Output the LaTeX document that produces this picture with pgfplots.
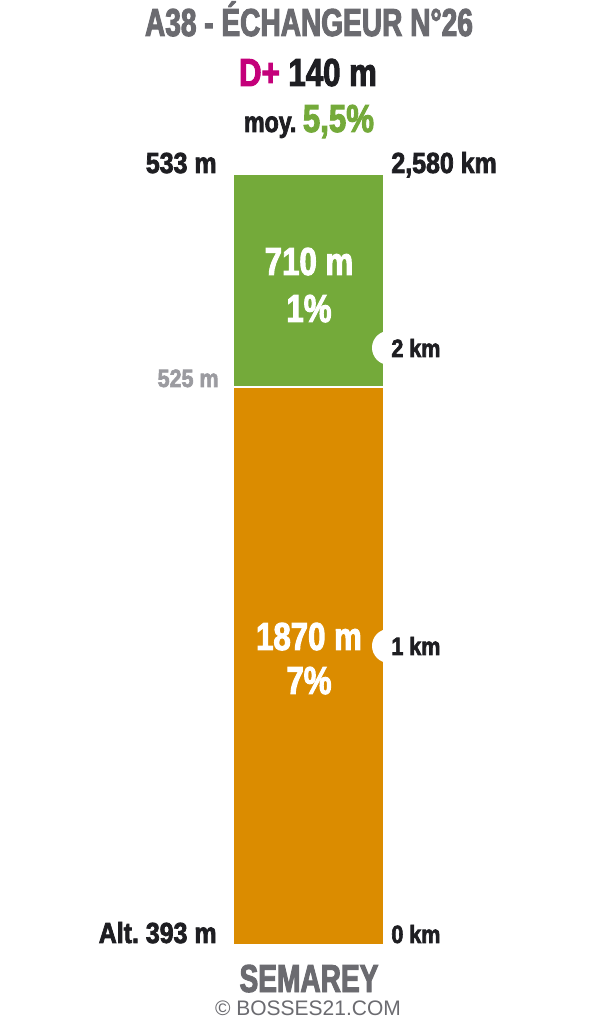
\documentclass[border=0pt]{standalone}
\usepackage{pgfplots}
\pgfplotsset{compat=1.18}
\usepackage{fontspec}
\setmainfont{Liberation Sans}
\newfontfamily\cfa[FakeStretch=0.72,BoldFeatures={FakeBold=2.5}]{Liberation Sans}
\newfontfamily\cfb[FakeStretch=0.80,BoldFeatures={FakeBold=2.5}]{Liberation Sans}
\newfontfamily\cfc[FakeStretch=0.86,BoldFeatures={FakeBold=2.5}]{Liberation Sans}
\definecolor{cgreen}{HTML}{74AA3A}
\definecolor{corange}{HTML}{DB8C00}
\definecolor{ctitle}{HTML}{6B6B70}
\definecolor{cdark}{HTML}{1E1E22}
\definecolor{cmag}{HTML}{C4007A}
\definecolor{clight}{HTML}{9B9BA0}
\newcommand\FS[1]{\fontsize{#1}{#1}\selectfont}
\newcommand\PX[2]{({(#1)*0.5pt},{(1024-(#2))*0.5pt})}
\frenchspacing
\begin{document}
\begin{tikzpicture}
\useasboundingbox (0,0) rectangle (300pt,512pt);
\fill[white] (0,0) rectangle (300pt,512pt);
\begin{axis}[
  at={(117pt,40pt)}, anchor=south west,
  scale only axis, width=74.5pt, height=384.5pt,
  xmin=-0.5, xmax=0.5, ymin=0, ymax=2580,
  ybar stacked, bar width=74.5pt,
  hide axis, clip=false, enlargelimits=false,
]
\addplot[fill=corange, draw=none] coordinates {(0,1870)};
\addplot[fill=cgreen, draw=none] coordinates {(0,710)};
\coordinate (sl) at (axis cs:-0.5,1870);
\coordinate (sr) at (axis cs:0.5,1870);
\coordinate (n1) at (axis cs:0.5,1000);
\coordinate (n2) at (axis cs:0.5,2000);
\end{axis}
\draw[white, line width=1pt] (sl) -- (sr);
\fill[white] ([xshift=3pt]n1) circle (8.5pt);
\fill[white] ([xshift=3pt]n2) circle (8.5pt);
% header
\node[anchor=base, inner sep=0, text=ctitle] at \PX{309}{36} {\cfa\bfseries\FS{19.5}A38 - ÉCHANGEUR N°26};
\node[anchor=base, inner sep=0, text=cdark] at \PX{308}{86} {\cfb\bfseries\FS{19.5}\textcolor{cmag}{D+} 140 m};
\node[anchor=base, inner sep=0, text=cdark] at \PX{309}{132} {\cfb\bfseries\FS{14.5}moy. \textcolor{cgreen}{\FS{19.5}5,5\%}};
% side labels
\node[anchor=base east, inner sep=0, text=cdark] at \PX{217}{173} {\cfc\bfseries\FS{14.5}533 m};
\node[anchor=base west, inner sep=0, text=cdark] at \PX{391}{173} {\cfc\bfseries\FS{14.5}2,580 km};
\node[anchor=base east, inner sep=0, text=clight] at \PX{219}{387} {\cfc\bfseries\FS{12.5}525 m};
\node[anchor=base west, inner sep=0, text=cdark] at \PX{391}{357} {\cfc\bfseries\FS{12.5}2 km};
\node[anchor=base west, inner sep=0, text=cdark] at \PX{391}{655} {\cfc\bfseries\FS{12.5}1 km};
\node[anchor=base west, inner sep=0, text=cdark] at \PX{391}{943} {\cfc\bfseries\FS{12.5}0 km};
\node[anchor=base east, inner sep=0, text=cdark] at \PX{217}{943} {\cfc\bfseries\FS{14.5}Alt. 393 m};
% bar labels
\node[anchor=base, inner sep=0, text=white] at \PX{309}{275} {\cfb\bfseries\FS{19.5}710 m};
\node[anchor=base, inner sep=0, text=white] at \PX{309}{322} {\cfb\bfseries\FS{19.5}1\%};
\node[anchor=base, inner sep=0, text=white] at \PX{309}{650} {\cfb\bfseries\FS{19.5}1870 m};
\node[anchor=base, inner sep=0, text=white] at \PX{309}{694} {\cfb\bfseries\FS{19.5}7\%};
% footer
\node[anchor=base, inner sep=0, text=ctitle] at \PX{309}{992} {\cfa\bfseries\FS{19.5}SEMAREY};
\node[anchor=base, inner sep=0, text=ctitle] at \PX{308}{1015} {\FS{10.5}© BOSSES21.COM};
\end{tikzpicture}
\end{document}
